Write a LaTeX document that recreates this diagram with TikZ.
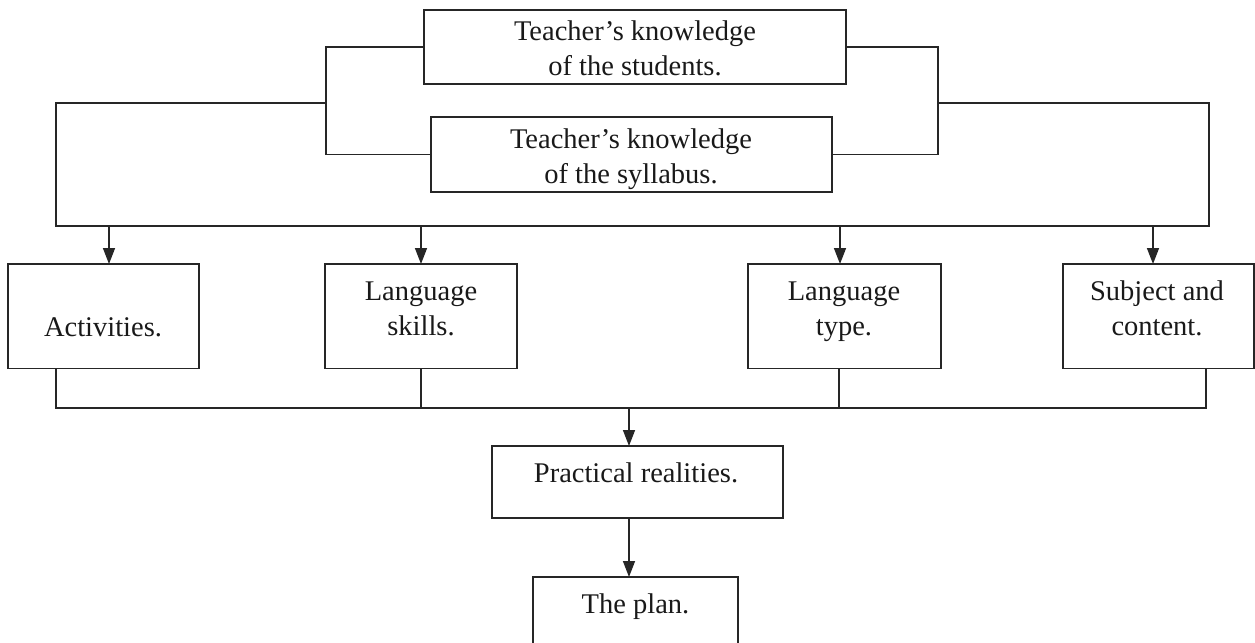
\documentclass[tikz,border=0pt]{standalone}
\usepackage{fontspec}
\setmainfont{Liberation Serif}
\usetikzlibrary{arrows.meta}
\begin{document}
\begin{tikzpicture}[x=0.4pt,y=-0.4pt,
  line width=0.6pt,
  box/.style={draw=black!85,rectangle,inner sep=0pt,outer sep=0pt},
  txt/.style={anchor=base,align=center,inner sep=0pt,text=black!90,
    font=\fontsize{11.4pt}{14pt}\selectfont},
  wire/.style={draw=black!85},
  arr/.style={draw=black!85,-{Triangle[length=6.4pt,width=4.8pt]}}]
\useasboundingbox (0,0) rectangle (1255,642);
\clip (0,0) rectangle (1255,642);
% boxes
\node[box,minimum width=168.8pt,minimum height=29.6pt] (S) at (635,47) {};
\node[box,minimum width=160.4pt,minimum height=30pt] (Y) at (631.5,154.5) {};
\node[box,minimum width=76.4pt,minimum height=41.8pt] (A) at (103.5,316.25) {};
\node[box,minimum width=76.8pt,minimum height=41.8pt] (L) at (421,316.25) {};
\node[box,minimum width=77.2pt,minimum height=41.8pt] (T) at (844.5,316.25) {};
\node[box,minimum width=76.4pt,minimum height=41.8pt] (C) at (1158.5,316.25) {};
\node[box,minimum width=116.4pt,minimum height=28.8pt] (P) at (637.5,482) {};
\node[box,minimum width=82pt,minimum height=33.2pt] (N) at (635.5,618.5) {};
% texts (base anchor = baseline of the last line)
\node[txt] (St) at (635,75) {Teacher’s knowledge\\of the students.};
\node[txt] (Yt) at (631,183) {Teacher’s knowledge\\of the syllabus.};
\node[txt] (At) at (103,336) {Activities.};
\node[txt] (Lt) at (421,335) {Language\\skills.};
\node[txt] (Tt) at (844,335) {Language\\type.};
\node[txt] (Ct) at (1157,335) {Subject and\\content.};
\node[txt] (Pt) at (636,482) {Practical realities.};
\node[txt] (Nt) at (635.5,613) {The plan.};
% coordinates
\coordinate (lb) at (326,103);
\coordinate (rb) at (938,103);
\coordinate (bl) at (56,226);
\coordinate (br) at (1209,226);
\coordinate (ml) at (56,408);
\coordinate (mr) at (1206,408);
\coordinate (mc) at (629,408);
% top brackets
\draw[wire] (S.west) -| (lb) |- (Y.west);
\draw[wire] (S.east) -| (rb) |- (Y.east);
\draw[wire] (lb) -| (bl) -- (br) |- (rb);
% arrows to row
\draw[arr] (109,226) -- (109,264);
\draw[arr] (421,226) -- (L.north);
\draw[arr] (840,226) -- (840,264);
\draw[arr] (1153,226) -- (1153,264);
% bottom bus
\draw[wire] (A.south -| ml) -- (ml) -- (mr) -- (C.south -| mr);
\draw[wire] (L.south) -- (L.south |- ml);
\draw[wire] (839,368.5) -- (839,408);
\draw[arr] (mc) -- (mc |- P.north);
\draw[arr] (mc |- P.south) -- (mc |- N.north);
\end{tikzpicture}
\end{document}
